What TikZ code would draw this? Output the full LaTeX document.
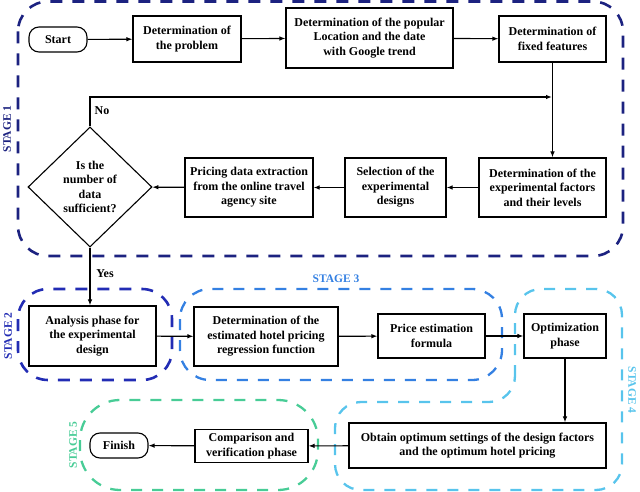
\documentclass[tikz,border=0pt]{standalone}
\usepackage{fontspec}
\setmainfont{Liberation Serif}
\usetikzlibrary{shapes.geometric,arrows.meta}

\definecolor{stgone}{RGB}{28,34,128}
\definecolor{stgtwo}{RGB}{34,44,180}
\definecolor{stgthree}{RGB}{52,128,226}
\definecolor{stgfour}{RGB}{88,196,236}
\definecolor{stgfive}{RGB}{72,204,150}

\begin{document}
\begin{tikzpicture}[x=1pt, y=-1pt,
    box/.style={draw, line width=1.1pt, fill=white, align=center, inner sep=1pt,
      font=\bfseries\fontsize{12}{14.5}\selectfont},
    term/.style={box, rounded corners=10pt, minimum width=58pt, minimum height=25pt},
    decide/.style={draw, line width=1.1pt, fill=white, shape=diamond, align=center, inner sep=0pt,
      minimum width=124pt, minimum height=120pt, font=\bfseries\fontsize{12}{14.5}\selectfont},
    arr/.style={line width=1.1pt, -{Latex[length=6pt,width=4.5pt]}},
    stage/.style={dashed, line width=2.6pt, dash pattern=on 12pt off 10pt, rounded corners=30pt},
    stagelbl/.style={font=\bfseries\fontsize{11.5}{13}\selectfont},
    lbl/.style={font=\bfseries\fontsize{12}{14}\selectfont}]
        \useasboundingbox (0,0) rectangle (640,492);

        % stage frames
        \draw [stage, stgone] (18,1.5) rectangle (623,256);
        \draw [stage, stgtwo] (18,289) rectangle (172,380);
        \draw [stage, stgthree, line width=2.3pt, dash pattern=on 11pt off 10pt] (180,289) rectangle (502,380);
        \draw [stage, stgfour, line width=2.3pt, dash pattern=on 11pt off 10pt, rounded corners=26pt]
          (515,402) -- (515,289) -- (622,289) -- (622,490) -- (335,490) -- (335,402) -- cycle;
        \draw [stage, stgfive, line width=2.3pt, dash pattern=on 11pt off 10pt, rounded corners=40pt] (80,400) rectangle (318,490);

        \node [stagelbl, stgone, rotate=90] (s1) at (7,129) {STAGE 1};
        \node [stagelbl, stgtwo, rotate=90] (s2) at (8,336) {STAGE 2};
        \node [stagelbl, stgthree] (s3) at (336,279) {STAGE 3};
        \node [stagelbl, stgfour, rotate=-90] (s4) at (632,390) {STAGE 4};
        \node [stagelbl, stgfive, rotate=90] (s5) at (73,445) {STAGE 5};

        % stage 1
        \node [term] (start) at (58,39.5) {Start};
        \node [box, minimum width=108pt, minimum height=46pt] (prob) at (187,39) {Determination of\\the problem};
        \node [box, minimum width=167pt, minimum height=60pt] (popular) at (369.5,38) {Determination of the popular\\Location and the date\\with Google trend};
        \node [box, minimum width=107pt, minimum height=46pt] (fixed) at (552.5,39) {Determination of\\fixed features};
        \node [box, minimum width=127pt, minimum height=59pt] (factors) at (542.5,187.5) {Determination of the\\experimental factors\\and their levels};
        \node [box, minimum width=101pt, minimum height=59pt] (select) at (395.5,187.5) {Selection of the\\experimental\\designs};
        \node [box, minimum width=128pt, minimum height=59pt] (pricing) at (249,187.5) {Pricing data extraction\\from the online travel\\agency site};
        \node [decide] (check) at (90,187) {Is the\\number of\\data\\sufficient?};
        \coordinate (nojoin) at (552,97);

        % stages 2 to 5
        \node [box, minimum width=127pt, minimum height=60pt] (analysis) at (92.5,336) {Analysis phase for\\the experimental\\design};
        \node [box, minimum width=144pt, minimum height=59pt] (estim) at (266,336.5) {Determination of the\\estimated hotel pricing\\regression function};
        \node [box, minimum width=107pt, minimum height=44pt] (formula) at (431.5,336) {Price estimation\\formula};
        \node [box, minimum width=82pt, minimum height=44pt] (optim) at (565,336) {Optimization\\phase};
        \node [box, minimum width=257pt, minimum height=45pt] (obtain) at (477.5,445.5) {Obtain optimum settings of the design factors\\and the optimum hotel pricing};
        \node [box, minimum width=113pt, minimum height=33pt] (compar) at (251.5,446) {Comparison and\\verification phase};
        \node [term] (finish) at (119,445.5) {Finish};

        \draw [arr] (start) -- (prob);
        \draw [arr] (prob) -- (popular);
        \draw [arr] (popular) -- (fixed);
        \draw [arr] (fixed) -- (fixed |- factors.north);
        \draw [arr] (factors) -- (select);
        \draw [arr] (select) -- (pricing);
        \draw [arr] (pricing) -- (check);
        \draw [arr] (check.north) |- (nojoin);
        \node [lbl] (nolbl) at (102,111) {No};
        \draw [arr] (check.south) -- (analysis.north -| check.south);
        \node [lbl] (yeslbl) at (105,274) {Yes};
        \draw [arr] (analysis) -- (estim);
        \draw [arr] (estim) -- (formula);
        \draw [arr] (formula) -- (optim);
        \draw [arr] (optim) -- (optim |- obtain.north);
        \draw [arr] (obtain) -- (compar);
        \draw [arr] (compar) -- (finish);
      \end{tikzpicture}
\end{document}
